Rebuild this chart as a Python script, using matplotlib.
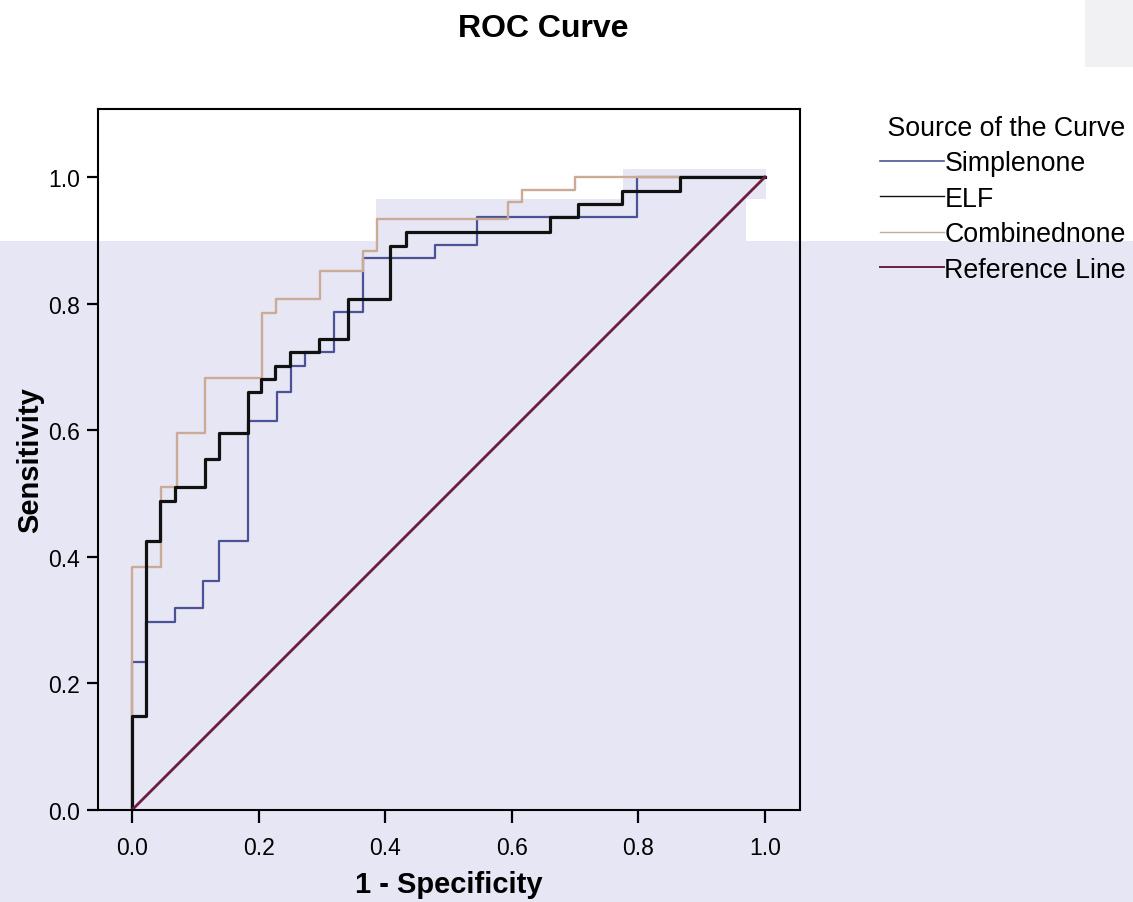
import matplotlib.pyplot as plt
from matplotlib.patches import Rectangle
from matplotlib.lines import Line2D

plt.rcParams['font.family'] = ['Liberation Sans', 'DejaVu Sans']

# ROC corner points: x where the curve rises, y after the rise
simple_fpr = [0.0, 0.0, 0.022, 0.068, 0.112, 0.137, 0.183, 0.229, 0.251, 0.273,
              0.319, 0.365, 0.479, 0.545, 0.798, 1.0]
simple_tpr = [0.0, 0.234, 0.297, 0.319, 0.362, 0.425, 0.615, 0.660, 0.701, 0.723,
              0.787, 0.872, 0.893, 0.936, 1.0, 1.0]

elf_fpr = [0.0, 0.0, 0.022, 0.044, 0.068, 0.115, 0.137, 0.183, 0.204, 0.226, 0.250,
           0.295, 0.341, 0.408, 0.433, 0.660, 0.705, 0.774, 0.866, 1.0]
elf_tpr = [0.0, 0.149, 0.425, 0.488, 0.510, 0.555, 0.596, 0.660, 0.681, 0.701, 0.723,
           0.744, 0.807, 0.891, 0.913, 0.937, 0.957, 0.978, 1.0, 1.0]

comb_fpr = [0.0, 0.0, 0.046, 0.071, 0.115, 0.205, 0.227, 0.297, 0.365, 0.387,
            0.594, 0.616, 0.700, 1.0]
comb_tpr = [0.0, 0.384, 0.510, 0.596, 0.682, 0.785, 0.807, 0.851, 0.883, 0.934,
            0.960, 0.980, 1.0, 1.0]

ref_x = [0.0, 1.0]
ref_y = [0.0, 1.0]

ticks = [0.0, 0.2, 0.4, 0.6, 0.8, 1.0]
legend_labels = ['Simplenone', 'ELF', 'Combinednone', 'Reference Line']

c_simple = '#4b5396'
c_elf = '#111111'
c_comb = '#cbab95'
c_ref = '#6e1d3e'
lavender = '#e7e6f5'

W, H = 1133, 903
fig = plt.figure(figsize=(W / 100, H / 100), dpi=100)


def px_rect(x0, y0, x1, y1, color):
    # rectangle given in image pixels (origin top-left)
    r = Rectangle((x0 / W, 1 - y1 / H), (x1 - x0) / W, (y1 - y0) / H,
                  transform=fig.transFigure, color=color, lw=0, zorder=-1)
    fig.add_artist(r)


# scanned page background
px_rect(0, 242, W, H, lavender)
px_rect(376, 200, 746, 242, lavender)
px_rect(623, 170, 766, 200, lavender)
px_rect(1085, 0, W, 68, '#f1f1f3')

ax = fig.add_axes([98 / W, 1 - 811 / H, (800 - 98) / W, (811 - 110) / H])
ax.set_facecolor('none')

ax.step(simple_fpr, simple_tpr, where='post', color=c_simple, lw=1.6)
ax.step(comb_fpr, comb_tpr, where='post', color=c_comb, lw=1.7)
ax.step(elf_fpr, elf_tpr, where='post', color=c_elf, lw=2.3)
ax.plot(ref_x, ref_y, color=c_ref, lw=2.0)

ax.set_xlim(-0.0537, 1.0553)
ax.set_ylim(0.0, 1.1074)
ax.set_xticks(ticks)
ax.set_yticks(ticks)
ax.set_xticklabels([f'{t:.1f}' for t in ticks])
ax.set_yticklabels([f'{t:.1f}' for t in ticks])
ax.tick_params(axis='x', direction='out', length=9.5, width=1.6, pad=9, labelsize=16.5)
ax.tick_params(axis='y', direction='out', length=8, width=1.6, pad=5, labelsize=16.5)
for s in ax.spines.values():
    s.set_linewidth(1.5)

ax.set_xlabel('1 - Specificity', fontsize=21, fontweight='bold', labelpad=8)
ax.set_ylabel('Sensitivity', fontsize=21, fontweight='bold', labelpad=3)

fig.text(543 / W, 1 - 29 / H, 'ROC Curve', ha='center', va='center',
         fontsize=23, fontweight='bold')

handles = [Line2D([], [], color=c_simple, lw=1.2),
           Line2D([], [], color=c_elf, lw=1.0),
           Line2D([], [], color=c_comb, lw=1.0),
           Line2D([], [], color=c_ref, lw=1.4)]
leg = fig.legend(handles, legend_labels, title=' Source of the Curve',
                 loc='upper left', bbox_to_anchor=(880 / W, 1 - 116 / H),
                 frameon=False, fontsize=19.3, title_fontsize=19.3,
                 handlelength=2.4, handletextpad=0.0, labelspacing=0.35,
                 borderpad=0.0, borderaxespad=0.0)
leg._legend_box.align = 'left'

fig.savefig('out.png', dpi=100)
